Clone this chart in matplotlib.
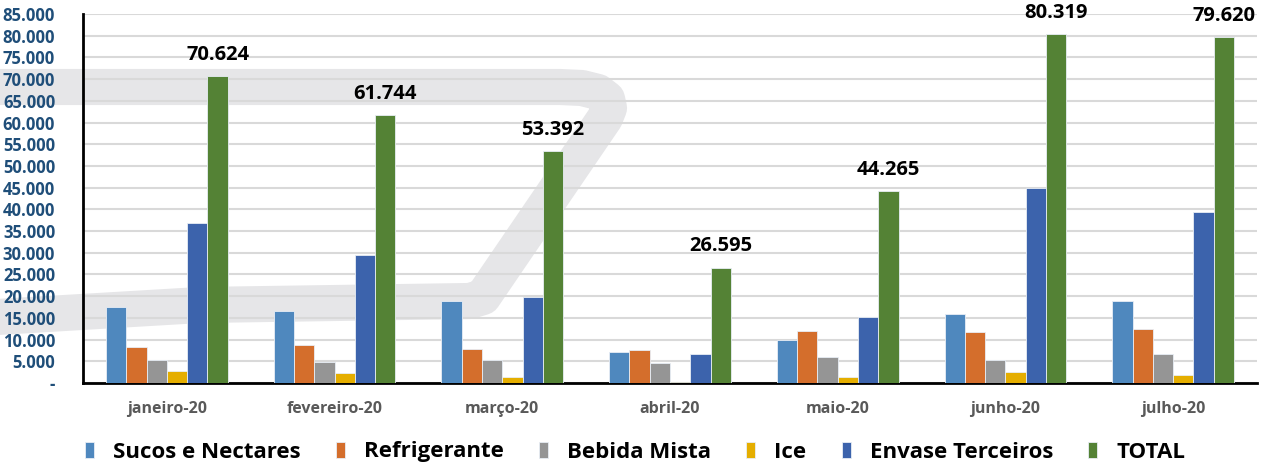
import numpy as np
import matplotlib
matplotlib.use('Agg')
import matplotlib.pyplot as plt
from matplotlib.lines import Line2D
from matplotlib.ticker import FuncFormatter

plt.rcParams['font.family'] = ['Open Sans', 'DejaVu Sans']

months = ['janeiro-20', 'fevereiro-20', 'março-20', 'abril-20', 'maio-20', 'junho-20', 'julho-20']
series = ['Sucos e Nectares', 'Refrigerante', 'Bebida Mista', 'Ice', 'Envase Terceiros', 'TOTAL']

sucos = [17500, 16600, 18800, 7100, 9800, 15800, 19000]
refrigerante = [8300, 8700, 7900, 7700, 11900, 11800, 12500]
bebida = [5400, 4800, 5200, 4700, 6100, 5200, 6700]
ice = [2700, 2200, 1300, 300, 1300, 2500, 1900]
envase = [36800, 29400, 19900, 6600, 15200, 44900, 39400]
total = [70624, 61744, 53392, 26595, 44265, 80319, 79620]

colors = ['#4F88BE', '#D46E2C', '#959595', '#E5AE00', '#3C63AC', '#548235']

values = [sucos, refrigerante, bebida, ice, envase, total]

fig = plt.figure(figsize=(12.7, 4.71), dpi=100)

# grey watermark shape behind the chart
W, H = 1270, 471
wx = [-20, 560, 582, 598, 607, 609, 605, 483, 470, 200, -20]
wy = [87, 87, 88, 92, 99, 108, 118, 297, 301, 305, 318]
fig.add_artist(Line2D([x / W for x in wx], [1 - y / H for y in wy],
                      color='#E6E6E8', lw=26, solid_joinstyle='round',
                      solid_capstyle='butt', zorder=0))

ax = fig.add_axes([83 / W, 1 - 383 / H, (1257 - 83) / W, (383 - 14) / H])
ax.patch.set_alpha(0)

x = np.arange(len(months))
width = 0.121
for i, (name, vals) in enumerate(zip(series, values)):
    pos = x + (i - 2.5) * width
    ax.bar(pos, vals, width, color=colors[i], label=name, zorder=3,
           edgecolor='#E8EEF5', linewidth=0.6)

for xi, t in zip(x, total):
    ax.text(xi + 2.5 * width, t + 2600, f'{t:,}'.replace(',', '.'),
            ha='center', va='bottom', fontsize=14.5, fontweight='bold', color='black', zorder=4)

ax.set_ylim(0, 85000)
ax.set_xlim(-0.5, len(months) - 0.5)
ax.set_yticks(np.arange(0, 85001, 5000))
ax.yaxis.set_major_formatter(FuncFormatter(
    lambda v, p: '-' if v == 0 else f'{int(v):,}'.replace(',', '.')))
ax.grid(axis='y', color='#D9D9D9', lw=1.5, zorder=1)
ax.set_axisbelow(True)

ax.set_xticks(x)
ax.set_xticklabels(months, fontsize=11.5, fontweight='bold', color='#595959')
ax.tick_params(axis='x', length=0, pad=13)
ax.tick_params(axis='y', length=0, pad=20, labelsize=12, labelcolor='#1F4E79')
for lbl in ax.get_yticklabels():
    lbl.set_fontweight('bold')

for s in ['top', 'right']:
    ax.spines[s].set_visible(False)
ax.spines['left'].set_linewidth(2)
ax.spines['bottom'].set_linewidth(2)
ax.spines['left'].set_color('black')
ax.spines['bottom'].set_color('black')

fig.legend(loc='center', bbox_to_anchor=(0.5, 1 - 452 / H), ncol=6, frameon=False,
           prop={'size': 16, 'weight': 'bold'}, handlelength=0.4, handleheight=0.7,
           handletextpad=0.85, columnspacing=1.6)

fig.savefig('out.png', dpi=100)
